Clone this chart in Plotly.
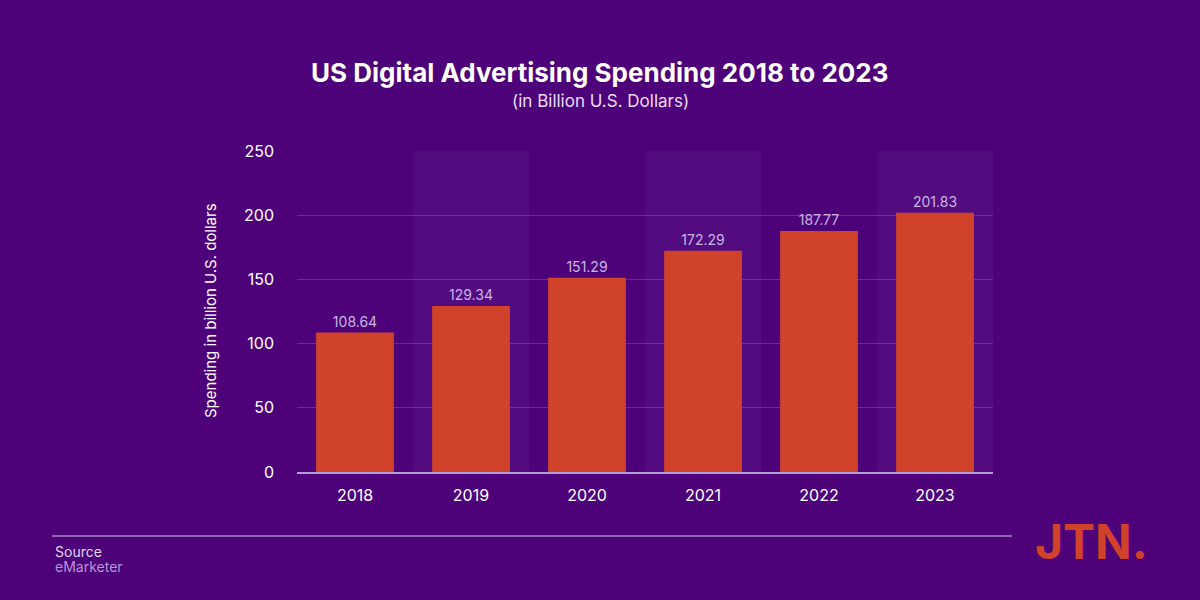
import plotly.graph_objects as go

years = ["2018", "2019", "2020", "2021", "2022", "2023"]
spending = [108.64, 129.34, 151.29, 172.29, 187.77, 201.83]
y_ticks = [0, 50, 100, 150, 200, 250]
shaded_years = ["2019", "2021", "2023"]

BG = "#4D0279"
BAND = "#530C80"
BAR = "#D0432A"
FONT = "Inter, Roboto, Liberation Sans, sans-serif"

fig = go.Figure()

fig.add_trace(go.Bar(
    x=years, y=spending,
    marker=dict(color=BAR, line=dict(width=0)),
    text=[f"{v:.2f}" for v in spending],
    textposition="outside",
    textfont=dict(color="#C9B5E2", size=14, family=FONT),
    cliponaxis=False,
    width=0.67,
    hoverinfo="x+y",
))

shapes = []
for yr in shaded_years:
    i = years.index(yr)
    shapes.append(dict(type="rect", xref="x", yref="y", x0=i - 0.5, x1=i + 0.5,
                       y0=0, y1=y_ticks[-1], fillcolor=BAND, line=dict(width=0), layer="below"))
# footer rule
shapes.append(dict(type="line", xref="paper", yref="paper", x0=-245/696, x1=715/696,
                   y0=-64/321, y1=-64/321, line=dict(color="#A88BC8", width=1.5)))

W, H = 1200, 600
L, R, T, B = 297, 207, 151, 128
pw, ph = W - L - R, H - T - B


def px(x, y):
    return (x - L) / pw, (H - B - y) / ph


def ann(text, x, y, size, color, xanchor="center", angle=0):
    ax, ay = px(x, y)
    return dict(text=text, x=ax, y=ay, xref="paper", yref="paper", showarrow=False,
                xanchor=xanchor, yanchor="middle", textangle=angle,
                font=dict(size=size, color=color, family=FONT))


fig.update_layout(
    width=W, height=H,
    paper_bgcolor=BG, plot_bgcolor=BG,
    margin=dict(l=L, r=R, t=T, b=B),
    showlegend=False,
    shapes=shapes,
    font=dict(family=FONT, color="#FFFFFF"),
    xaxis=dict(
        type="category", showgrid=False, zeroline=False,
        showline=True, linecolor="#B59AD3", linewidth=2,
        tickfont=dict(size=16, color="#FFFFFF"), ticks="", ticklabelstandoff=8,
        range=[-0.5, 5.5],
    ),
    yaxis=dict(
        range=[0, 250], tickvals=y_ticks, showgrid=True,
        gridcolor="rgba(150,100,200,0.4)", gridwidth=1, zeroline=False,
        tickfont=dict(size=16, color="#FFFFFF"), ticks="", ticklabelstandoff=22,
        layer="below traces",
    ),
    annotations=[
        ann("<b>US Digital Advertising Spending 2018 to 2023</b>", 600, 72, 26, "#FFFFFF"),
        ann("(in Billion U.S. Dollars)", 600, 101, 17, "#E9DDF5"),
        ann("Spending in billion U.S. dollars", 210, 311, 15, "#FFFFFF", angle=-90),
        ann("Source", 53, 551, 14, "#E0D2EF", xanchor="left"),
        ann("eMarketer", 53, 566, 14, "#B795D6", xanchor="left"),
        ann("<b>JTN.</b>", 1033, 541, 48, BAR, xanchor="left"),
    ],
)

fig.write_html("out.html")
